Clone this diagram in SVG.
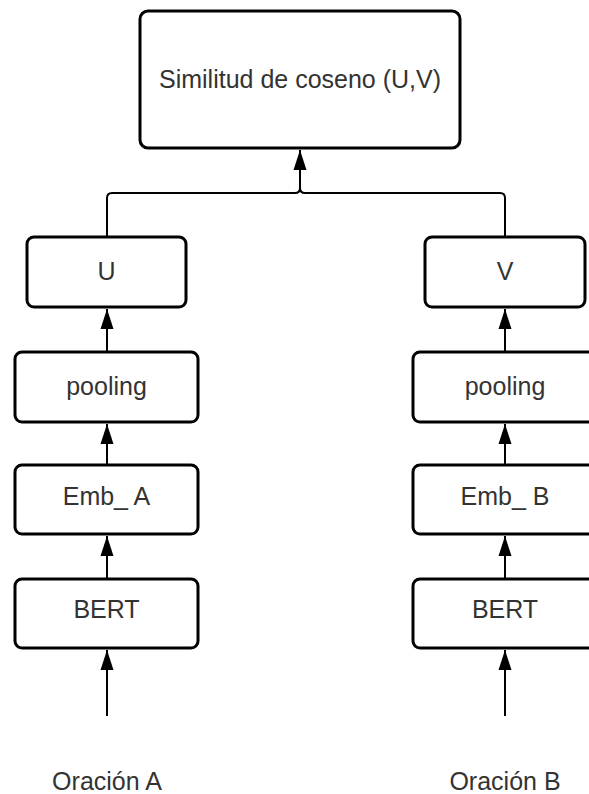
<svg xmlns="http://www.w3.org/2000/svg" width="589" height="794" viewBox="0 0 589 794">
  <style>
    .box { fill: #ffffff; stroke: #000000; stroke-width: 3; }
    .lbl { font-family: "Liberation Sans", Arial, sans-serif; font-size: 25px; fill: #333333; text-anchor: middle; }
    .edge { fill: none; stroke: #000000; stroke-width: 2; }
  </style>
  <defs>
    <marker id="arrow" markerUnits="userSpaceOnUse" markerWidth="21" markerHeight="14" refX="20" refY="7" orient="auto">
      <path d="M0,0.5 L20,7 L0,13.5 z" fill="#000000"/>
    </marker>
  </defs>
  <rect width="589" height="794" fill="#ffffff"/>

  <!-- connectors -->
  <g id="connectors">
    <path class="edge" d="M107,716 V650" marker-end="url(#arrow)"/>
    <path class="edge" d="M107,579 V536" marker-end="url(#arrow)"/>
    <path class="edge" d="M107,465 V424" marker-end="url(#arrow)"/>
    <path class="edge" d="M107,352 V309" marker-end="url(#arrow)"/>
    <path class="edge" d="M505,716 V650" marker-end="url(#arrow)"/>
    <path class="edge" d="M505,579 V536" marker-end="url(#arrow)"/>
    <path class="edge" d="M505,465 V424" marker-end="url(#arrow)"/>
    <path class="edge" d="M505,352 V309" marker-end="url(#arrow)"/>
    <path class="edge" d="M107,237 V198 Q107,193 112,193 H295 Q300,193 300,188 V150" marker-end="url(#arrow)"/>
    <path class="edge" d="M505,237 V198 Q505,193 500,193 H305 Q300,193 300,188"/>
  </g>

  <!-- top node -->
  <g id="similitud">
    <rect class="box" x="140" y="11" width="320" height="137" rx="8"/>
    <text class="lbl" x="300" y="88">Similitud de coseno (U,V)</text>
  </g>

  <!-- left branch -->
  <g id="u">
    <rect class="box" x="27" y="237" width="159" height="70" rx="7"/>
    <text class="lbl" x="106.5" y="280">U</text>
  </g>
  <g id="pooling-a">
    <rect class="box" x="15" y="352" width="183" height="70" rx="7"/>
    <text class="lbl" x="106.5" y="395">pooling</text>
  </g>
  <g id="emb-a">
    <rect class="box" x="15" y="465" width="183" height="69" rx="7"/>
    <text class="lbl" x="106.5" y="505">Emb_ A</text>
  </g>
  <g id="bert-a">
    <rect class="box" x="15" y="579" width="183" height="69" rx="7"/>
    <text class="lbl" x="106.5" y="618">BERT</text>
  </g>
  <g id="oracion-a">
    <text class="lbl" x="107" y="790">Oración A</text>
  </g>

  <!-- right branch -->
  <g id="v">
    <rect class="box" x="425" y="237" width="160" height="70" rx="7"/>
    <text class="lbl" x="505" y="280">V</text>
  </g>
  <g id="pooling-b">
    <rect class="box" x="413" y="352" width="183" height="70" rx="7"/>
    <text class="lbl" x="505" y="395">pooling</text>
  </g>
  <g id="emb-b">
    <rect class="box" x="413" y="465" width="183" height="69" rx="7"/>
    <text class="lbl" x="505" y="505">Emb_ B</text>
  </g>
  <g id="bert-b">
    <rect class="box" x="413" y="579" width="183" height="69" rx="7"/>
    <text class="lbl" x="505" y="618">BERT</text>
  </g>
  <g id="oracion-b">
    <text class="lbl" x="505" y="790">Oración B</text>
  </g>
</svg>
